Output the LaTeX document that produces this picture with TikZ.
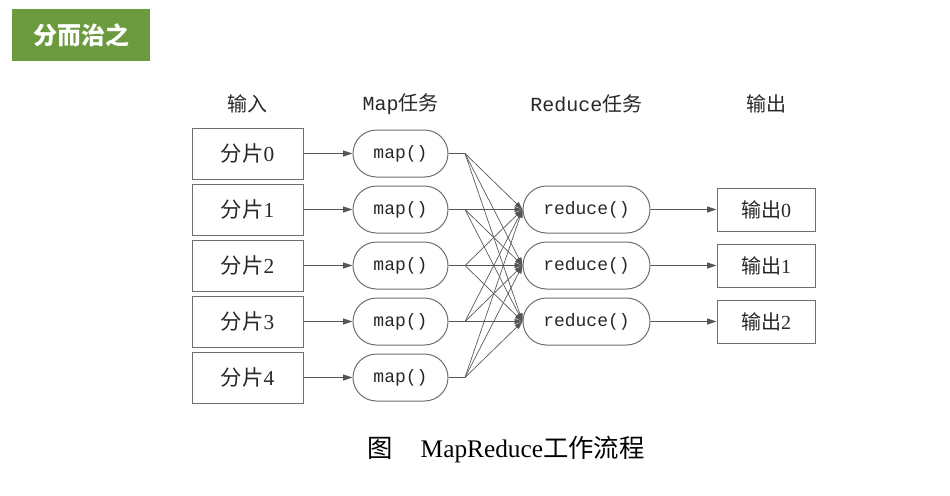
\documentclass[tikz,border=0pt]{standalone}
\usepackage{fontspec}
\setmainfont{Liberation Serif}
\setmonofont{Liberation Mono}
\newfontfamily\cjk{Noto Sans CJK SC}
\usetikzlibrary{arrows.meta,shapes.misc}

\definecolor{titlegreen}{RGB}{107,155,62}
\definecolor{linegray}{RGB}{85,85,85}
\definecolor{boxgray}{RGB}{110,110,110}
\definecolor{textgray}{RGB}{40,40,40}

\tikzset{
  inbox/.style={draw=boxgray,line width=0.75pt,minimum width=83.25pt,minimum height=38.25pt,inner sep=0pt,font=\fontsize{16}{18}\selectfont,text=textgray},
  outbox/.style={draw=boxgray,line width=0.75pt,minimum width=73.5pt,minimum height=32.25pt,inner sep=0pt,font=\fontsize{15}{17}\selectfont,text=textgray},
  mapnode/.style={draw=boxgray,line width=0.75pt,rounded rectangle,minimum width=71.25pt,minimum height=35.25pt,inner sep=0pt,font=\ttfamily\fontsize{13.5}{15}\selectfont,text=textgray},
  rednode/.style={mapnode,minimum width=95.25pt},
  header/.style={font=\fontsize{15}{17}\selectfont,text=textgray},
  flow/.style={draw=linegray,line width=0.6pt,-{Triangle[length=7pt,width=4.5pt]}},
  fan/.style={draw=linegray,line width=0.5pt,-{Triangle[length=6pt,width=4pt]}}
}

\begin{document}
\begin{tikzpicture}[x=0.75pt,y=0.75pt,yscale=-1,xscale=1]
	\path[use as bounding box] (0,0) rectangle (950,496);
	
	% Title Node
	\draw (81,35) node [fill=titlegreen,minimum width=103.5pt,minimum height=39pt,inner sep=0pt,text=white,font=\cjk\bfseries\fontsize{18}{20}\selectfont] (title) {分而治之};
	
	% Text Node
	\draw (247.5,104) node [header] (hin) {{\cjk 输入}};
	% Text Node
	\draw (400.5,104) node [header] (hmap) {\ttfamily Map{\cjk 任务}};
	% Text Node
	\draw (586.5,104) node [header] (hred) {\ttfamily Reduce{\cjk 任务}};
	% Text Node
	\draw (766,104) node [header] (hout) {{\cjk 输出}};
	
	% Input boxes
	\draw (247.5,153.5) node [inbox] (in0) {{\cjk 分片}0};
	\draw (247.5,209.5) node [inbox] (in1) {{\cjk 分片}1};
	\draw (247.5,265.5) node [inbox] (in2) {{\cjk 分片}2};
	\draw (247.5,321.5) node [inbox] (in3) {{\cjk 分片}3};
	\draw (247.5,377.5) node [inbox] (in4) {{\cjk 分片}4};
	
	% Map nodes
	\draw (400.5,153.5) node [mapnode] (map0) {map()};
	\draw (400.5,209.5) node [mapnode] (map1) {map()};
	\draw (400.5,265.5) node [mapnode] (map2) {map()};
	\draw (400.5,321.5) node [mapnode] (map3) {map()};
	\draw (400.5,377.5) node [mapnode] (map4) {map()};
	
	% Reduce nodes
	\draw (586.5,209.5) node [rednode] (red0) {reduce()};
	\draw (586.5,265.5) node [rednode] (red1) {reduce()};
	\draw (586.5,321.5) node [rednode] (red2) {reduce()};
	
	% Output boxes
	\draw (766,209.5) node [outbox] (out0) {{\cjk 输出}0};
	\draw (766,265.5) node [outbox] (out1) {{\cjk 输出}1};
	\draw (766,321.5) node [outbox] (out2) {{\cjk 输出}2};
	
	% Fan-out points
	\coordinate (fj0) at (465,153.5);
	\coordinate (fj1) at (465,209.5);
	\coordinate (fj2) at (465,265.5);
	\coordinate (fj3) at (465,321.5);
	\coordinate (fj4) at (465,377.5);
	
	%Straight Lines: input to map
	\draw [flow] (in0) -- (map0);
	\draw [flow] (in1) -- (map1);
	\draw [flow] (in2) -- (map2);
	\draw [flow] (in3) -- (map3);
	\draw [flow] (in4) -- (map4);
	
	%Straight Lines: map to fan-out point
	\draw [draw=linegray,line width=0.6pt] (map0) -- (fj0);
	\draw [draw=linegray,line width=0.6pt] (map1) -- (fj1);
	\draw [draw=linegray,line width=0.6pt] (map2) -- (fj2);
	\draw [draw=linegray,line width=0.6pt] (map3) -- (fj3);
	\draw [draw=linegray,line width=0.6pt] (map4) -- (fj4);
	
	%Straight Lines: shuffle
	\draw [fan] (fj0) -- (red0.west);
	\draw [fan] (fj0) -- (red1.west);
	\draw [fan] (fj0) -- (red2.west);
	\draw [fan] (fj1) -- (red0.west);
	\draw [fan] (fj1) -- (red1.west);
	\draw [fan] (fj1) -- (red2.west);
	\draw [fan] (fj2) -- (red0.west);
	\draw [fan] (fj2) -- (red1.west);
	\draw [fan] (fj2) -- (red2.west);
	\draw [fan] (fj3) -- (red0.west);
	\draw [fan] (fj3) -- (red1.west);
	\draw [fan] (fj3) -- (red2.west);
	\draw [fan] (fj4) -- (red0.west);
	\draw [fan] (fj4) -- (red1.west);
	\draw [fan] (fj4) -- (red2.west);
	
	%Straight Lines: reduce to output
	\draw [flow] (red0) -- (out0);
	\draw [flow] (red1) -- (out1);
	\draw [flow] (red2) -- (out2);
	
	% Caption
	\draw (506,450) node [font=\fontsize{19}{21}\selectfont,text=black] (caption) {{\cjk 图}\hspace{1.1em}MapReduce{\cjk 工作流程}};
	
\end{tikzpicture}
\end{document}
